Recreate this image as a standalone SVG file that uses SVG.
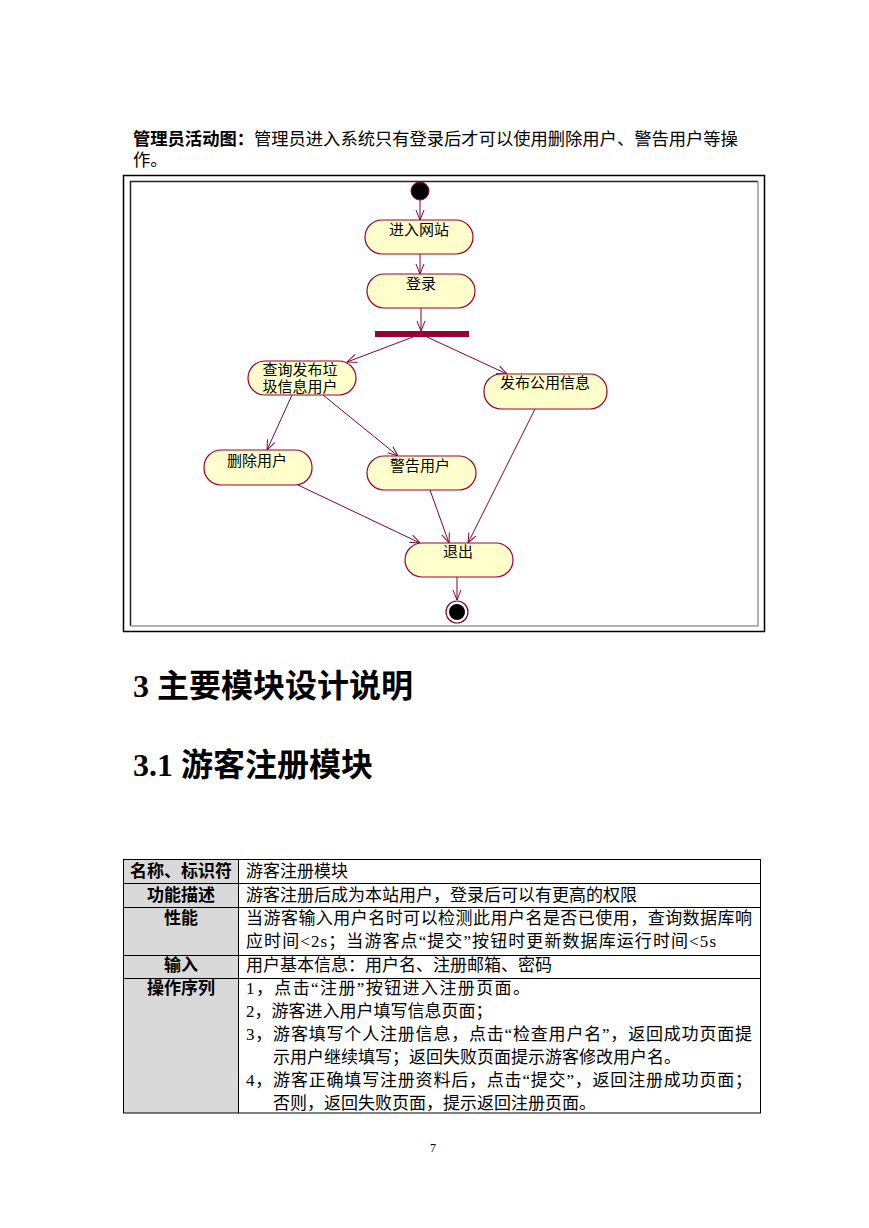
<svg xmlns="http://www.w3.org/2000/svg" width="869" height="1228" viewBox="0 0 869 1228">
<defs>
<style>
.cjk{font-family:"Noto Sans CJK SC",sans-serif;}
.ser{font-family:"Liberation Serif","Noto Sans CJK SC",serif;}
.act{fill:#ffffcc;stroke:#990033;stroke-width:1.2;}
.lbl{font-family:"Noto Sans CJK SC",sans-serif;font-size:15px;fill:#000;text-anchor:middle;}
.con{stroke:#800040;stroke-width:1;fill:none;marker-end:url(#arr);}
.cell{font-family:"Liberation Serif","Noto Sans CJK SC",serif;font-size:17px;fill:#000;}
.head{font-family:"Noto Sans CJK SC",sans-serif;font-size:17px;font-weight:bold;fill:#000;text-anchor:middle;}
.grid{stroke:#000;stroke-width:1;fill:none;}
</style>
<marker id="arr" viewBox="0 0 10 10" refX="10" refY="5" markerWidth="10" markerHeight="10" markerUnits="userSpaceOnUse" orient="auto">
<path d="M0,1 L10,5 L0,9" fill="none" stroke="#800040" stroke-width="1"/>
</marker>
</defs>
<rect width="869" height="1228" fill="#fff"/>

<g id="intro">
<text x="133" y="145" class="cjk" font-size="17.3"><tspan font-weight="bold">管理员活动图：</tspan>管理员进入系统只有登录后才可以使用删除用户、警告用户等操</text>
<text x="133" y="166" class="cjk" font-size="17.3">作。</text>
</g>

<g id="frame">
<rect x="123.5" y="175.5" width="641" height="456" fill="none" stroke="#000" stroke-width="1.5"/>
<path d="M130.5,626 V181.5 H758" fill="none" stroke="#222" stroke-width="1.5"/>
<path d="M130.5,626 H758 V181.5" fill="none" stroke="#999" stroke-width="1.5"/>
</g>

<g id="connectors">
<line class="con" x1="420" y1="200" x2="420" y2="220"/>
<line class="con" x1="420" y1="254" x2="420" y2="274"/>
<line class="con" x1="421" y1="308" x2="421" y2="331"/>
<line class="con" x1="413" y1="337" x2="347" y2="362"/>
<line class="con" x1="427" y1="337" x2="507" y2="374"/>
<line class="con" x1="292" y1="395" x2="267" y2="450"/>
<line class="con" x1="323" y1="395" x2="398" y2="456"/>
<line class="con" x1="298" y1="485" x2="420" y2="543"/>
<line class="con" x1="430" y1="490" x2="449" y2="543"/>
<line class="con" x1="535" y1="409" x2="468" y2="543"/>
<line class="con" x1="457" y1="577" x2="457" y2="600"/>
</g>

<g id="start"><circle cx="420" cy="191" r="9" fill="#000" stroke="#800040" stroke-width="1"/></g>
<g id="n-enter"><rect class="act" x="365" y="220" width="108" height="34" rx="17" ry="17"/><text class="lbl" x="419" y="235">进入网站</text></g>
<g id="n-login"><rect class="act" x="367" y="274" width="108" height="34" rx="17" ry="17"/><text class="lbl" x="421" y="289">登录</text></g>
<g id="fork"><rect x="375" y="331" width="94" height="6" fill="#990033"/></g>
<g id="n-query"><rect class="act" x="248" y="361" width="108" height="34" rx="17" ry="17"/><text class="lbl" x="300" y="375">查询发布垃</text><text class="lbl" x="300" y="392">圾信息用户</text></g>
<g id="n-publish"><rect class="act" x="484" y="374" width="123" height="35" rx="17" ry="17"/><text class="lbl" x="545" y="388">发布公用信息</text></g>
<g id="n-delete"><rect class="act" x="204" y="450" width="108" height="35" rx="17" ry="17"/><text class="lbl" x="257" y="466">删除用户</text></g>
<g id="n-warn"><rect class="act" x="367" y="456" width="109" height="34" rx="17" ry="17"/><text class="lbl" x="420" y="471">警告用户</text></g>
<g id="n-exit"><rect class="act" x="405" y="543" width="108" height="34" rx="17" ry="17"/><text class="lbl" x="458" y="557">退出</text></g>
<g id="end"><circle cx="457" cy="612" r="11" fill="#fff" stroke="#800040" stroke-width="1.2"/><circle cx="457" cy="612" r="8" fill="#000"/></g>

<g id="headings">
<text x="133" y="697" class="ser" font-size="32" font-weight="bold">3 主要模块设计说明</text>
<text x="133" y="776" class="ser" font-size="32" font-weight="bold">3.1 游客注册模块</text>
</g>

<g id="table">
<rect x="123" y="859" width="115" height="254" fill="#d9d9d9"/>
<rect class="grid" x="123.5" y="859.5" width="637" height="253.5"/>
<line class="grid" x1="238.5" y1="859" x2="238.5" y2="1113"/>
<line class="grid" x1="123" y1="883.5" x2="761" y2="883.5"/>
<line class="grid" x1="123" y1="907.5" x2="761" y2="907.5"/>
<line class="grid" x1="123" y1="955.5" x2="761" y2="955.5"/>
<line class="grid" x1="123" y1="978.5" x2="761" y2="978.5"/>

<text class="head" x="181" y="877">名称、标识符</text>
<text class="head" x="181" y="901">功能描述</text>
<text class="head" x="181" y="924">性能</text>
<text class="head" x="181" y="971">输入</text>
<text class="head" x="181" y="994">操作序列</text>

<text class="cell" x="246" y="877">游客注册模块</text>
<text class="cell" x="246" y="901">游客注册后成为本站用户，登录后可以有更高的权限</text>
<text class="cell" x="246" y="924" textLength="506" lengthAdjust="spacing">当游客输入用户名时可以检测此用户名是否已使用，查询数据库响</text>
<text class="cell" x="246" y="947" textLength="470" lengthAdjust="spacing">应时间&lt;2s；当游客点“提交”按钮时更新数据库运行时间&lt;5s</text>
<text class="cell" x="246" y="971">用户基本信息：用户名、注册邮箱、密码</text>
<text class="cell" x="246" y="994" textLength="284" lengthAdjust="spacing">1，点击“注册”按钮进入注册页面。</text>
<text class="cell" x="246" y="1017">2，游客进入用户填写信息页面；</text>
<text class="cell" x="246" y="1040" textLength="506" lengthAdjust="spacing">3，游客填写个人注册信息，点击“检查用户名”，返回成功页面提</text>
<text class="cell" x="273" y="1063">示用户继续填写；返回失败页面提示游客修改用户名。</text>
<text class="cell" x="246" y="1086" textLength="506" lengthAdjust="spacing">4，游客正确填写注册资料后，点击“提交”，返回注册成功页面；</text>
<text class="cell" x="273" y="1109">否则，返回失败页面，提示返回注册页面。</text>
</g>

<text x="433" y="1152" font-family="Liberation Serif, serif" font-size="12" text-anchor="middle">7</text>
</svg>
